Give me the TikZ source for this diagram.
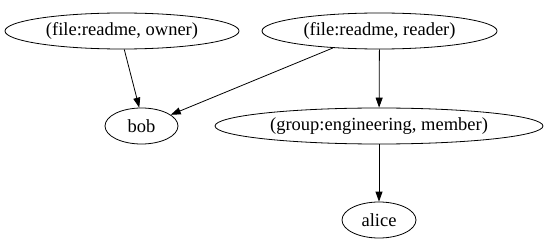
\documentclass[tikz,border=0pt]{standalone}
\usepackage{fontspec}
\setmainfont{Liberation Serif}
\usetikzlibrary{shapes.geometric,arrows.meta}
\begin{document}
\begin{tikzpicture}[x=1pt,y=-1pt,
  elnode/.style={draw,ellipse,line width=0.8pt,inner sep=0pt,minimum height=36pt,font=\fontsize{18.5pt}{20pt}\selectfont},
  edge/.style={line width=0.8pt,-{Triangle[length=10pt,width=7pt]}}]
\useasboundingbox (0,0) rectangle (546,251);
\node[elnode,minimum width=234pt] (owner) at (122,31) {(file:readme, owner)};
\node[elnode,minimum width=235pt] (reader) at (379.5,31) {(file:readme, reader)};
\node[elnode,minimum width=73pt] (bob) at (141.5,126) {bob};
\node[elnode,minimum width=328pt] (group) at (379,126) {(group:engineering, member)};
\node[elnode,minimum width=74pt] (alice) at (379,220) {alice};
\draw[edge] (owner.-83) -- (bob.97);
\draw[edge] (reader.-160) -- (bob.21);
\draw[edge] (reader) -- (group);
\draw[edge] (group) -- (alice);
\end{tikzpicture}
\end{document}
